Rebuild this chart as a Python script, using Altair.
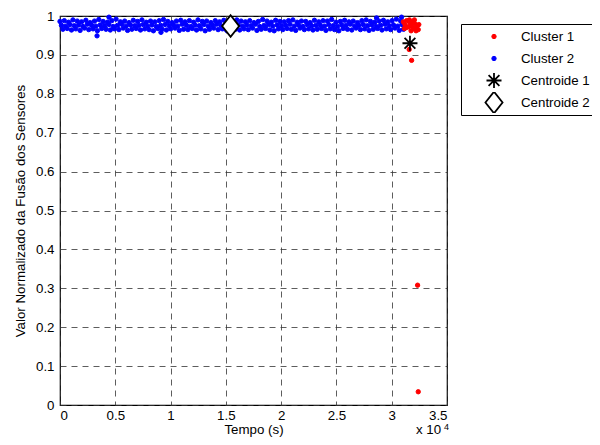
import altair as alt
import pandas as pd

# ---- data ----
passo = 390  # sampling interval (s) of the blue series tracks
faixa_a = [986,988,984,990,987,985,989,983,987,991,986,984,988,992,985,987,983,989,986,990,
           984,987,985,988,991,986,983,987,989,985,988,984,990,986,987,983,988,985,989,986,
           984,990,987,985,988,983,986,991,987,984,989,986,985,988,990,984,987,986,983,989,
           985,988,987,991,984,986,989,985,987,983,988,990,986,984,987,989,985,988,992,987]
faixa_b = [976,974,978,975,977,973,979,976,974,977,975,978,973,976,979,974,977,975,976,978,
           974,977,973,976,978,975,977,974,979,976,973,977,975,978,974,976,979,975,977,973,
           976,978,974,977,975,979,973,976,978,974,977,975,976,979,974,977,973,978,975,976,
           977,974,978,975,973,977,976,979,974,976,978,975,977,973,976,979,975,977,974,978]
faixa_c = [966,968,964,967,963,969,965,967,962,968,966,964,967,965,969,963,966,968,964,967,
           965,962,968,966,964,967,969,963,966,965,968,964,967,962,966,969,965,967,963,968,
           966,964,967,965,969,963,966,968,964,962,967,965,968,966,963,969,965,967,964,966,
           968,963,967,965,962,968,966,964,969,965,967,963,966,968,964,967,965,969,963,966]
extra2_t = [3350, 9130, 4430, 28630, 30890]
extra2_v = [0.949, 0.958, 0.997, 0.995, 0.997]

c1_t = [31050, 31200, 31350, 31500, 31650, 31800, 31950, 32100, 32250, 32400, 31300, 31600,
        31900, 32200, 32450, 31150, 31750, 32050, 31580, 31800, 32340, 32400]
c1_v = [0.985, 0.978, 0.988, 0.972, 0.982, 0.975, 0.968, 0.980, 0.972, 0.965, 0.970, 0.990,
        0.985, 0.962, 0.978, 0.968, 0.962, 0.990, 0.914, 0.886, 0.308, 0.034]

cent_t = [31650, 15430]
cent_v = [0.930, 0.974]

series = ["Cluster 1", "Cluster 2", "Centroide 1", "Centroide 2"]

rows = []
for k, faixa in enumerate([faixa_a, faixa_b, faixa_c]):
    for i, v in enumerate(faixa):
        rows.append({"t": i * passo + k * 130, "v": v / 1000, "s": "Cluster 2"})
for t, v in zip(extra2_t, extra2_v):
    rows.append({"t": t, "v": v, "s": "Cluster 2"})
for t, v in zip(c1_t, c1_v):
    rows.append({"t": t, "v": v, "s": "Cluster 1"})
rows.append({"t": cent_t[0], "v": cent_v[0], "s": "Centroide 1"})
rows.append({"t": cent_t[1], "v": cent_v[1], "s": "Centroide 2"})
df = pd.DataFrame(rows)
df["o"] = range(len(df))

asterisco = "M0,-1L0,1M-1,0L1,0M-0.72,-0.72L0.72,0.72M-0.72,0.72L0.72,-0.72"
losango = "M0,-1.2L0.95,0L0,1.2L-0.95,0Z"

FONT = "Liberation Sans"
FS = 13.3
x_scale = alt.Scale(domain=[0, 35000], nice=False)
y_scale = alt.Scale(domain=[0, 1], nice=False)

leg = alt.Legend(title=None, orient="none", legendX=401, legendY=8,
                 strokeColor="black", fillColor="white", padding=2,
                 symbolOffset=21, labelOffset=17, labelFont=FONT, labelFontSize=13.3,
                 labelColor="black", clipHeight=21, rowPadding=1)

pts = alt.Chart(df).mark_point(filled=False, opacity=1).encode(
    x=alt.X("t:Q", scale=x_scale, title="Tempo (s)",
            axis=alt.Axis(values=[0, 5000, 10000, 15000, 20000, 25000, 30000, 35000],
                          labelExpr="datum.value/10000")),
    y=alt.Y("v:Q", scale=y_scale, title="Valor Normalizado da Fusão dos Sensores",
            axis=alt.Axis(values=[0, 0.1, 0.2, 0.3, 0.4, 0.5, 0.6, 0.7, 0.8, 0.9, 1], format="~g")),
    fill=alt.Fill("s:N", sort=series, scale=alt.Scale(domain=series, range=["red", "blue", "white", "white"]), legend=leg),
    stroke=alt.Stroke("s:N", sort=series, scale=alt.Scale(domain=series, range=["red", "blue", "black", "black"]), legend=leg),
    shape=alt.Shape("s:N", sort=series, scale=alt.Scale(domain=series, range=["circle", "circle", asterisco, losango]), legend=leg),
    size=alt.Size("s:N", sort=series, scale=alt.Scale(type="ordinal", domain=series, range=[19, 19, 225, 324]), legend=leg),
    strokeWidth=alt.StrokeWidth("s:N", sort=series, scale=alt.Scale(type="ordinal", domain=series, range=[1, 1, 1.8, 1.8]), legend=leg),
    order=alt.Order("o:Q"),
)

exp_txt = alt.Chart(pd.DataFrame({"a": ["x 10"]})).mark_text(
    font=FONT, fontSize=FS, align="left", baseline="alphabetic", color="black").encode(
    x=alt.value(356), y=alt.value(418), text="a:N")
exp_sup = alt.Chart(pd.DataFrame({"a": ["4"]})).mark_text(
    font=FONT, fontSize=9, align="left", baseline="alphabetic", color="black").encode(
    x=alt.value(384), y=alt.value(414), text="a:N")

chart = alt.layer(pts, exp_txt, exp_sup).properties(
    width=387, height=389,
    autosize=alt.AutoSizeParams(type="none"),
    padding={"left": 52, "top": 8, "right": 145, "bottom": 32},
).configure_view(stroke="black", strokeWidth=1.2).configure_axis(
    domain=False, ticks=False, grid=True, gridColor="#333", gridDash=[6, 5], gridWidth=0.8,
    labelFont=FONT, labelFontSize=FS, labelColor="black",
    titleFont=FONT, titleFontSize=FS, titleColor="black", titleFontWeight="normal",
).configure_axisX(labelPadding=3, titlePadding=1).configure_axisY(labelPadding=6, titlePadding=8)

chart.save("out.html", embed_options={"renderer": "svg", "actions": False})
